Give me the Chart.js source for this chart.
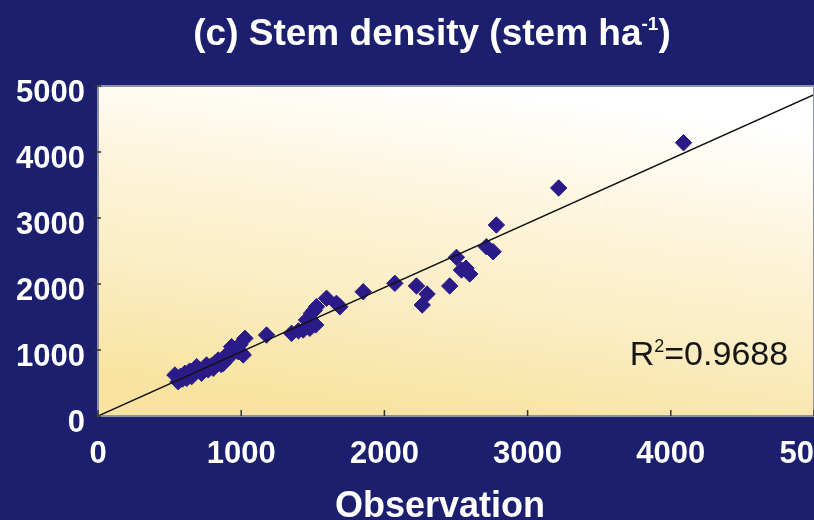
<!DOCTYPE html>
<html>
<head>
<meta charset="utf-8">
<script src="https://cdn.jsdelivr.net/npm/chart.js@4.4.1/dist/chart.umd.min.js"></script>
<style>
    html, body { margin: 0; padding: 0; background: #1b1f6e; overflow: hidden; }
    #frame { width: 814px; height: 520px; overflow: hidden; }
    #chart { display: block; }
</style>
</head>
<body>
<div id="frame"><canvas id="chart" width="880" height="520"></canvas></div>
<script>
// observed vs simulated stem density (stem/ha)
const observed = [
    537, 560, 575, 590, 607, 620, 640, 654, 670, 689, 700, 723, 740, 758, 770, 790,
    805, 815, 840, 860, 875, 890, 909, 920, 933, 950, 979, 990, 1003, 1014, 1026,
    1177, 1352, 1400, 1433, 1456, 1479, 1491, 1510, 1520, 1526, 1596, 1665, 1689, 1852, 2073,
    2224, 2264, 2298, 2456, 2503, 2538, 2570, 2596, 2712, 2759, 2782, 3217, 4089
];
const simulated = [
    621, 520, 600, 560, 647, 570, 680, 596, 640, 747, 690, 647, 720, 773, 700, 760,
    722, 800, 848, 780, 798, 870, 950, 900, 1050, 990, 974, 1080, 950, 924, 1177,
    1227, 1253, 1290, 1303, 1455, 1328, 1556, 1600, 1380, 1656, 1783, 1707, 1656, 1883, 2010,
    1970, 1682, 1848, 1970, 2404, 2212, 2240, 2152, 2565, 2489, 2894, 3455, 4141
];
const fitX = [0, 5000];
const fitY = [0, 4870];
const xTicks = [0, 1000, 2000, 3000, 4000, 5000];
const yTicks = [0, 1000, 2000, 3000, 4000, 5000];

const titleText = "(c) Stem density (stem ha";
const titleSup = "-1";
const titleEnd = ")";
const xTitle = "Observation";
const r2Value = "=0.9688";

const FONT = "'Liberation Sans', Arial, sans-serif";

const plotDecor = {
    id: "plotDecor",
    beforeDraw(chart) {
        const { ctx, chartArea: a } = chart;
        const g = ctx.createLinearGradient(a.left + a.width * 0.5, a.top, a.left + a.width * 0.44, a.bottom);
        g.addColorStop(0, "#ffffff");
        g.addColorStop(0.3, "#fdf6e0");
        g.addColorStop(0.7, "#fbecc0");
        g.addColorStop(1, "#f8e3a0");
        ctx.save();
        ctx.fillStyle = g;
        ctx.fillRect(a.left, a.top, a.width, a.height);
        ctx.restore();
    },
    afterDraw(chart) {
        const { ctx, chartArea: a } = chart;
        const xs = chart.scales.x;
        const ys = chart.scales.y;
        ctx.save();

        // plot border
        ctx.strokeStyle = "#8e90a8";
        ctx.lineWidth = 2;
        ctx.strokeRect(a.left, a.top, a.width, a.height);

        // small tick marks
        ctx.strokeStyle = "#333";
        ctx.lineWidth = 1.5;
        xTicks.forEach(v => {
            const px = xs.getPixelForValue(v);
            ctx.beginPath();
            ctx.moveTo(px, a.bottom);
            ctx.lineTo(px, a.bottom - 6);
            ctx.stroke();
        });
        yTicks.forEach(v => {
            const py = ys.getPixelForValue(v);
            ctx.beginPath();
            ctx.moveTo(a.left - 4, py);
            ctx.lineTo(a.left + 3, py);
            ctx.stroke();
        });

        // title with superscript
        ctx.fillStyle = "#ffffff";
        ctx.textBaseline = "alphabetic";
        ctx.font = "bold 37px " + FONT;
        const w1 = ctx.measureText(titleText).width;
        const w3 = ctx.measureText(titleEnd).width;
        ctx.font = "bold 19px " + FONT;
        const w2 = ctx.measureText(titleSup).width;
        let tx = 432 - (w1 + w2 + w3) / 2;
        ctx.font = "bold 37px " + FONT;
        ctx.fillText(titleText, tx, 45);
        ctx.font = "bold 19px " + FONT;
        ctx.fillText(titleSup, tx + w1, 30);
        ctx.font = "bold 37px " + FONT;
        ctx.fillText(titleEnd, tx + w1 + w2, 45);

        // x axis title
        ctx.font = "bold 36px " + FONT;
        ctx.textAlign = "center";
        ctx.fillText(xTitle, 440, 517);

        // R squared
        ctx.textAlign = "left";
        ctx.fillStyle = "#161616";
        let rx = xs.getPixelForValue(3713);
        const ry = ys.getPixelForValue(773);
        ctx.font = "34px " + FONT;
        ctx.fillText("R", rx, ry);
        rx += ctx.measureText("R").width;
        ctx.font = "18px " + FONT;
        ctx.fillText("2", rx, ry - 13);
        rx += ctx.measureText("2").width;
        ctx.font = "34px " + FONT;
        ctx.fillText(r2Value, rx, ry);

        ctx.restore();
    }
};

const tickFont = { family: FONT, size: 31, weight: "bold" };

new Chart(document.getElementById("chart"), {
    type: "scatter",
    data: {
        datasets: [
            {
                type: "line",
                data: fitX.map((x, i) => ({ x: x, y: fitY[i] })),
                borderColor: "#111111",
                borderWidth: 1.5,
                pointRadius: 0,
                fill: false,
                order: 0
            },
            {
                data: observed.map((x, i) => ({ x: x, y: simulated[i] })),
                pointStyle: "rectRot",
                pointRadius: 8.2,
                backgroundColor: "#2b1b88",
                borderColor: "#2b1b88",
                borderWidth: 1,
                order: 1
            }
        ]
    },
    options: {
        responsive: false,
        animation: false,
        layout: { padding: { top: 86, left: 0, right: 66, bottom: 0 } },
        plugins: {
            legend: { display: false },
            tooltip: { enabled: false }
        },
        scales: {
            x: {
                type: "linear",
                min: 0,
                max: 5000,
                grid: { display: false, drawTicks: false },
                border: { display: false },
                ticks: {
                    color: "#ffffff", font: tickFont, padding: 20, maxRotation: 0, autoSkip: false,
                    callback: v => String(v)
                },
                afterBuildTicks: s => { s.ticks = xTicks.map(v => ({ value: v })); },
                afterFit: s => { s.height = 104; }
            },
            y: {
                type: "linear",
                min: 0,
                max: 5000,
                grid: { display: false, drawTicks: false },
                border: { display: false },
                ticks: {
                    color: "#ffffff", font: tickFont, padding: 13, labelOffset: 7, autoSkip: false,
                    callback: v => String(v)
                },
                afterBuildTicks: s => { s.ticks = yTicks.map(v => ({ value: v })); },
                afterFit: s => { s.width = 98; }
            }
        }
    },
    plugins: [plotDecor]
});
</script>
</body>
</html>
